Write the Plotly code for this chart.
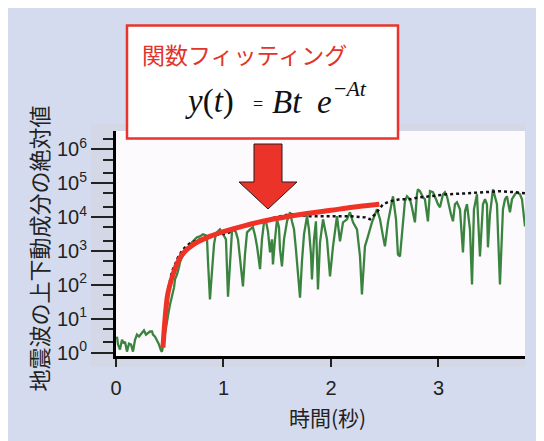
import plotly.graph_objects as go

# ---- data ----
wave_t = [0.009, 0.019, 0.037, 0.056, 0.074, 0.084, 0.102, 0.121, 0.140, 0.158, 0.177, 0.195, 0.214, 0.233,
          0.242, 0.260, 0.279, 0.298, 0.316, 0.335, 0.344, 0.363, 0.381, 0.400, 0.419, 0.428,
          0.447, 0.465, 0.484, 0.502, 0.521, 0.540, 0.549, 0.567, 0.586, 0.595, 0.614, 0.633, 0.660, 0.679,
          0.707, 0.726, 0.753, 0.781, 0.809, 0.837, 0.847, 0.856, 0.874, 0.893, 0.912, 0.930, 0.949, 0.967,
          0.986, 1.005, 1.023, 1.042, 1.060, 1.079, 1.098, 1.116, 1.135, 1.153, 1.181, 1.200, 1.219, 1.247,
          1.274, 1.293, 1.312, 1.340, 1.358, 1.377, 1.395, 1.414, 1.433, 1.451, 1.460, 1.479, 1.498, 1.516,
          1.526, 1.544, 1.563, 1.591, 1.619, 1.637, 1.656, 1.674, 1.693, 1.712, 1.730, 1.749, 1.777, 1.795,
          1.814, 1.823, 1.842, 1.860, 1.879, 1.898, 1.926, 1.963, 1.991, 2.019, 2.056, 2.084, 2.112, 2.149,
          2.177, 2.205, 2.242, 2.270, 2.288, 2.298, 2.316, 2.344, 2.381, 2.428, 2.456, 2.484, 2.502, 2.530,
          2.567, 2.577, 2.605, 2.623, 2.642, 2.670, 2.688, 2.707, 2.735, 2.753, 2.781, 2.800, 2.809, 2.828,
          2.856, 2.874, 2.902, 2.921, 2.949, 2.977, 2.995, 3.014, 3.042, 3.060, 3.079, 3.116, 3.135, 3.153,
          3.172, 3.200, 3.228, 3.247, 3.265, 3.293, 3.312, 3.330, 3.340, 3.358, 3.386, 3.414, 3.433, 3.451,
          3.460, 3.479, 3.507, 3.526, 3.544, 3.572, 3.600, 3.619, 3.637, 3.665, 3.684, 3.712, 3.730, 3.758,
          3.777, 3.805]
wave_amp = [2.97, 1.73, 1.23, 2.4, 1.85, 2.1, 1.07, 1.85, 1.73, 1.07, 2.4, 3.4, 2.97, 3.65,
            3.9, 4.5, 3.4, 3.9, 4.2, 4.2, 3.4, 2.97, 2.26, 1.73, 1.15, 1.07,
            2.4, 6.3, 12.4, 26, 45, 84, 145, 200, 330, 460, 650, 790, 970, 1280,
            1800, 2060, 2530, 2700, 3100, 2900, 2200, 490, 37, 250, 1570, 3300, 3800, 4350,
            3550, 2900, 2200, 45, 490, 3800, 4350, 3550, 2200, 690, 90, 790, 3550, 4350,
            5000, 2900, 1370, 290, 2200, 7000, 7500, 3800, 910, 2200, 400, 2200, 8600, 5000,
            1110, 350, 2200, 7500, 13900, 7500, 4350, 1110, 200, 42, 490, 3100, 10600, 4350,
            790, 145, 2200, 7500, 73, 1800, 8600, 2200, 178, 1370, 10600, 1920, 7000, 8600,
            13900, 7000, 4350, 690, 52, 145, 1370, 2700, 7000, 17000, 8600, 2700, 1370, 7000,
            33600, 41000, 8600, 790, 690, 8600, 29300, 41000, 33600, 19500, 7000, 47000, 66000, 58000,
            38500, 33600, 7500, 58000, 54000, 33600, 23900, 19500, 47000, 54000, 41000, 12100, 7500, 23900,
            27400, 17000, 910, 14900, 23900, 4350, 103, 17000, 27400, 47000, 690, 23900, 33600, 23900,
            1280, 12100, 66000, 41000, 23900, 103, 17000, 33600, 41000, 13900, 33600, 47000, 54000, 47000,
            33600, 5300]

envelope_t = [0.465, 0.484, 0.502, 0.521, 0.549, 0.577, 0.623, 0.688, 0.781, 0.902, 1.033, 1.153, 1.247,
              1.340, 1.479, 1.619, 1.805, 1.991, 2.177, 2.316, 2.363, 2.419, 2.484, 2.549, 2.642, 2.735,
              2.828, 2.921, 3.079, 3.247, 3.386, 3.572, 3.712, 3.805]
envelope_amp = [37, 73, 135, 250, 400, 650, 1110, 1680, 2200, 2900, 3300, 5000, 6100,
                7000, 9800, 12100, 10600, 10600, 10600, 9800, 8600, 13000, 23900, 29300, 33600, 33600,
                38500, 41000, 47000, 50000, 54000, 58000, 54000, 50000]

fit_t = [0.437, 0.455, 0.48, 0.52, 0.565, 0.62, 0.715, 0.85, 1.0, 1.2, 1.4, 1.7, 2.0, 2.2, 2.45]
fit_amp = [1.41, 8.9, 50, 158, 400, 830, 1510, 2510, 3720, 5620, 7940, 11700, 15800, 19500, 24000]

x_ticks = [0, 1, 2, 3]
y_ticks = [1, 10, 100, 1000, 10000, 100000, 1000000]
y_tick_text = ["10<sup>0</sup>", "10<sup>1</sup>", "10<sup>2</sup>", "10<sup>3</sup>",
               "10<sup>4</sup>", "10<sup>5</sup>", "10<sup>6</sup>"]
y_minor = [2, 5, 20, 50, 200, 500, 2000, 5000, 20000, 50000, 200000, 500000, 2000000]

title_text = "関数フィッティング"
x_title = "時間(秒)"
y_title = "地震波の上下動成分の絶対値"

# ---- figure ----
fig = go.Figure()
fig.add_trace(go.Scatter(x=wave_t, y=wave_amp, mode="lines",
                         line=dict(color="#3b843f", width=2.3), showlegend=False))
fig.add_trace(go.Scatter(x=envelope_t, y=envelope_amp, mode="lines",
                         line=dict(color="#111111", width=2.5, dash="dot"), showlegend=False))
fig.add_trace(go.Scatter(x=fit_t, y=fit_amp, mode="lines",
                         line=dict(color="#ee3326", width=5, shape="spline", smoothing=0.8),
                         showlegend=False))

tickfont = dict(family="Liberation Sans, Arial, sans-serif", size=20, color="#222222")
jp = "Noto Sans CJK JP, sans-serif"
serif = "Liberation Serif, Times New Roman, serif"

fig.update_layout(
    width=536, height=433,
    margin=dict(l=108, r=19, t=123, b=85),
    paper_bgcolor="white", plot_bgcolor="rgba(0,0,0,0)",
    xaxis=dict(range=[0, 3.805], tickvals=x_ticks, showgrid=False, zeroline=False,
               showline=True, linecolor="black", linewidth=3,
               ticks="outside", ticklen=8, tickwidth=2, tickcolor="#222222",
               tickfont=tickfont, ticklabelstandoff=4),
    yaxis=dict(type="log", range=[-0.1, 6.54], tickvals=y_ticks, ticktext=y_tick_text,
               showgrid=False, zeroline=False, showline=True, linecolor="black", linewidth=3,
               ticks="outside", ticklen=22, tickwidth=2, tickcolor="#222222", tickfont=tickfont,
               minor=dict(tickvals=y_minor, ticks="outside", ticklen=10, tickwidth=2,
                          tickcolor="#222222", showgrid=False)),
    shapes=[
        dict(type="rect", xref="paper", yref="paper", x0=-0.2689, x1=1.1, y0=-0.45, y1=1.6,
             fillcolor="#d5dbee", line=dict(width=0), layer="below"),
        dict(type="rect", xref="paper", yref="paper", x0=-0.0611, x1=1.0, y0=-0.0489, y1=1.0311,
             fillcolor="#d4d7e5", line=dict(width=0), layer="below"),
        dict(type="rect", xref="paper", yref="paper", x0=0, x1=1, y0=0, y1=1,
             fillcolor="#fdfafd", line=dict(width=0), layer="below"),
        dict(type="rect", xref="paper", yref="paper", x0=0.0269, x1=0.6895, y0=0.9667, y1=1.4689,
             fillcolor="white", line=dict(color="#e8342c", width=2.5), layer="above"),
        dict(type="path", xref="paper", yref="paper",
             path="M 0.3374 0.9422 L 0.4059 0.9422 L 0.4059 0.7733 L 0.4425 0.7733 "
                  "L 0.3716 0.6533 L 0.3007 0.7733 L 0.3374 0.7733 Z",
             fillcolor="#ec3329", line=dict(color="#2a1a1a", width=1), layer="above"),
    ],
    annotations=[
        dict(text=title_text, xref="paper", yref="paper", x=0.0587, y=1.342,
             xanchor="left", yanchor="middle", showarrow=False,
             font=dict(family=jp, size=23, color="#e3342a")),
        # formula y(t) = Bt e^(-At), placed piece by piece
        dict(text="<i>y</i>(<i>t</i>)", xref="paper", yref="paper", x=0.1638, y=1.129,
             xanchor="left", yanchor="middle", showarrow=False,
             font=dict(family=serif, size=33, color="#111111")),
        dict(text="=", xref="paper", yref="paper", x=0.347, y=1.12,
             xanchor="center", yanchor="middle", showarrow=False,
             font=dict(family=serif, size=18, color="#111111")),
        dict(text="<i>Bt</i>", xref="paper", yref="paper", x=0.3765, y=1.129,
             xanchor="left", yanchor="middle", showarrow=False,
             font=dict(family=serif, size=33, color="#111111")),
        dict(text="<i>e</i>", xref="paper", yref="paper", x=0.487, y=1.129,
             xanchor="left", yanchor="middle", showarrow=False,
             font=dict(family=serif, size=33, color="#111111")),
        dict(text="\u2212<i>At</i>", xref="paper", yref="paper", x=0.527, y=1.19,
             xanchor="left", yanchor="middle", showarrow=False,
             font=dict(family=serif, size=22, color="#111111")),
        dict(text=y_title, xref="paper", yref="paper", x=-0.1907, y=0.478, textangle=-90,
             xanchor="center", yanchor="middle", showarrow=False,
             font=dict(family=jp, size=22, color="#222222")),
        dict(text=x_title, xref="paper", yref="paper", x=0.516, y=-0.271,
             xanchor="center", yanchor="middle", showarrow=False,
             font=dict(family=jp, size=21, color="#222222")),
    ],
)

fig.write_html("out.html", config={"displayModeBar": False})
